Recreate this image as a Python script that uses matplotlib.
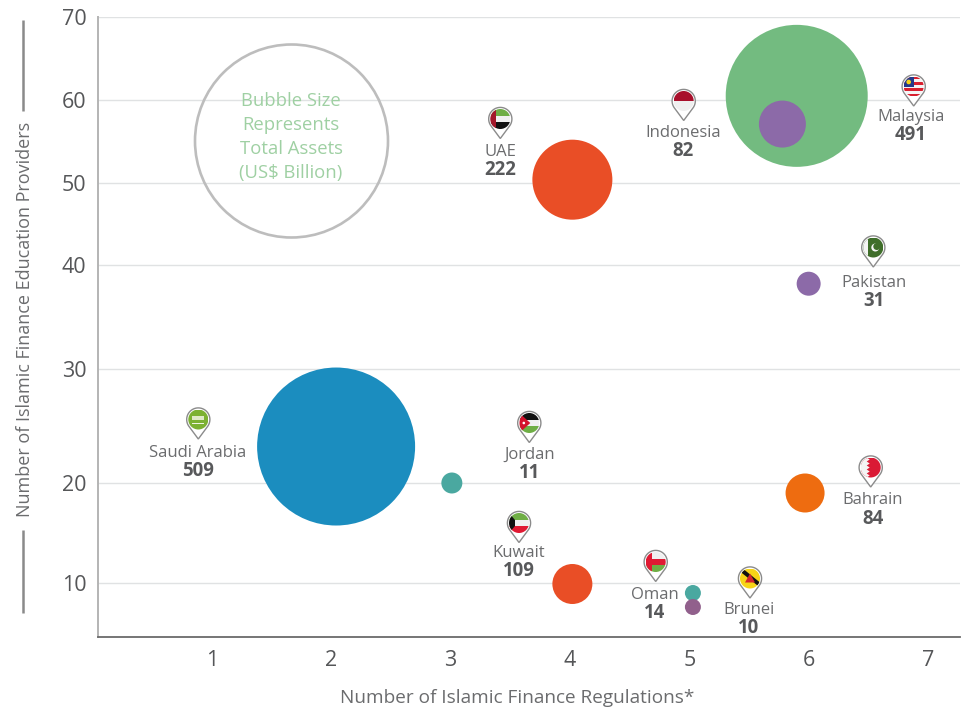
import numpy as np
import matplotlib
matplotlib.use("Agg")
import matplotlib.pyplot as plt
from matplotlib.patches import Circle, PathPatch, Rectangle, Polygon
from matplotlib.path import Path

plt.rcParams['font.family'] = ['Open Sans', 'DejaVu Sans']

# ---- data ----
countries = ["Saudi Arabia", "Malaysia", "UAE", "Kuwait", "Bahrain", "Indonesia", "Pakistan", "Jordan", "Oman", "Brunei"]
regulations = [2.04, 5.90, 4.02, 4.02, 5.97, 5.78, 6.00, 3.01, 5.03, 5.03]
providers = [23.2, 60.5, 50.4, 9.9, 19.0, 57.1, 38.2, 20.0, 9.0, 7.6]
assets = [509, 491, 222, 109, 84, 82, 31, 11, 14, 10]
x_ticks = [1, 2, 3, 4, 5, 6, 7]
y_ticks = [10, 20, 30, 40, 50, 60, 70]

# ---- styles ----
bubble_radius_px = [79, 71, 40, 20, 19.5, 23.5, 12, 10.5, 8, 8]
bubble_colors = ["#1b8dbf", "#73bb80", "#e94e26", "#e94e26", "#ee6c10", "#8c6aa8", "#8c6aa8", "#4aa8a0", "#4aa8a0", "#91608c"]
TXT = "#6b6c6e"
BOLD = "#58595b"

# piecewise y axis (the source's gridlines are unevenly spaced)
scale_vals = [4.6, 10, 20, 30, 40, 50, 60, 70]
scale_pos = [0, 54, 154, 268, 372, 454, 537, 620]

def fwd(v):
    return np.interp(v, scale_vals, scale_pos)

def inv(p):
    return np.interp(p, scale_pos, scale_vals)

W, H = 968, 707
fig = plt.figure(figsize=(W / 100, H / 100), dpi=100, facecolor="white")
ax = fig.add_axes([97.5 / W, 1 - 637 / H, (960 - 97.5) / W, (637 - 17) / H])
ax.set_xlim(1 + (97.5 - 212) / 119.33, 1 + (960 - 212) / 119.33)
ax.set_yscale("function", functions=(fwd, inv))
ax.set_ylim(4.6, 70)
ax.set_xticks(x_ticks)
ax.set_yticks(y_ticks)
ax.minorticks_off()
ax.grid(axis="y", color="#e0e2e3", lw=1.0, zorder=0)
ax.set_axisbelow(True)
ax.tick_params(length=0, labelsize=15.5, labelcolor="#555658")
ax.tick_params(axis="x", pad=9)
ax.tick_params(axis="y", pad=8)
for s in ("top", "right"):
    ax.spines[s].set_visible(False)
ax.spines["left"].set_color("#b4b4b4")
ax.spines["left"].set_linewidth(1.4)
ax.spines["bottom"].set_color("#6a6a6a")
ax.spines["bottom"].set_linewidth(1.3)

sizes = [(2 * r * 0.72) ** 2 for r in bubble_radius_px]
ax.scatter(regulations, providers, s=sizes, c=bubble_colors, linewidths=0, zorder=3, clip_on=False)

# ---- overlay in pixel coordinates for annotations ----
ov = fig.add_axes([0, 0, 1, 1], facecolor="none")
ov.set_xlim(0, W)
ov.set_ylim(H, 0)
ov.axis("off")

# size legend
ov.add_patch(Circle((291.5, 141), 96.5, fc="none", ec="#bdbdbd", lw=1.9))
for yy, t in zip([101, 125, 149, 173], ["Bubble Size", "Represents", "Total Assets", "(US$ Billion)"]):
    ov.text(291, yy, t, ha="center", va="center", fontsize=13.3, color="#9fd0a3")

# axis titles
ov.text(25, 319, "Number of Islamic Finance Education Providers", rotation=90, ha="center", va="center",
        fontsize=13, color=TXT)
ov.plot([23, 23], [20, 111], color="#8a8a8a", lw=1.8, solid_capstyle="butt")
ov.plot([23, 23], [530, 613], color="#8a8a8a", lw=1.8, solid_capstyle="butt")
ov.text(517, 698, "Number of Islamic Finance Regulations*", ha="center", va="center", fontsize=13.7, color=TXT)


def flag(cx, cy, draw):
    """Draws a flag clipped to the pin's round face."""
    R = 10
    clip = Circle((cx, cy), R, transform=ov.transData)
    for p in draw(cx, cy, R):
        ov.add_patch(p)
        p.set_clip_path(clip)
        p.set_linewidth(0)


def rect(x0, y0, x1, y1, c, z=6):
    return Rectangle((x0, y0), x1 - x0, y1 - y0, fc=c, zorder=z)


def stripes(cols):
    def d(cx, cy, R):
        n = len(cols)
        return [rect(cx - R, cy - R + 2 * R * i / n, cx + R, cy - R + 2 * R * (i + 1) / n, c) for i, c in enumerate(cols)]
    return d


def uae(cx, cy, R):
    return stripes(["#6fae45", "#f0f0f0", "#111111"])(cx, cy, R) + [rect(cx - R, cy - R, cx - R * 0.45, cy + R, "#a3182b", 7)]


def jordan(cx, cy, R):
    return stripes(["#111111", "#f0f0f0", "#6fae45"])(cx, cy, R) + [
        Polygon([(cx - R, cy - R), (cx + 1, cy), (cx - R, cy + R)], fc="#d4112c", zorder=7),
        Circle((cx - 5.5, cy), 1.3, fc="white", zorder=8)]


def kuwait(cx, cy, R):
    return stripes(["#6fae45", "#f0f0f0", "#e01a33"])(cx, cy, R) + [
        Polygon([(cx - R, cy - R), (cx - 4, cy - 3), (cx - 4, cy + 3), (cx - R, cy + R)], fc="#111111", zorder=7)]


def oman(cx, cy, R):
    return stripes(["#f0f0f0", "#e01a33", "#6fae45"])(cx, cy, R) + [rect(cx - R, cy - R, cx - R * 0.4, cy + R, "#e01a33", 7)]


def bahrain(cx, cy, R):
    pts = [(cx - R, cy - R)]
    n = 5
    for i in range(n):
        y0 = cy - R + 2 * R * i / n
        pts += [(cx - 4, y0), (cx - 1, y0 + R / n), (cx - 4, y0 + 2 * R / n)]
    pts += [(cx - R, cy + R)]
    return [rect(cx - R, cy - R, cx + R, cy + R, "#da1a35"), Polygon(pts, fc="#f4f4f4", zorder=7)]


def pakistan(cx, cy, R):
    return [rect(cx - R, cy - R, cx + R, cy + R, "#3f6e2a"),
            rect(cx - R, cy - R, cx - R * 0.55, cy + R, "#f4f4f4", 7),
            Circle((cx + 2, cy), 4, fc="#f4f4f4", zorder=7),
            Circle((cx + 3.5, cy - 1), 3.5, fc="#3f6e2a", zorder=8)]


def saudi(cx, cy, R):
    return [rect(cx - R, cy - R, cx + R, cy + R, "#7cb132"),
            rect(cx - 6, cy - 4, cx + 6, cy + 0.5, "#dfe9c8", 7),
            rect(cx - 6, cy + 3, cx + 6, cy + 4, "#eef3e0", 7)]


def brunei(cx, cy, R):
    return [rect(cx - R, cy - R, cx + R, cy + R, "#f7d417"),
            Polygon([(cx - R, cy - 7), (cx - 6, cy - 9), (cx + R, cy + 4), (cx + R, cy + 9)], fc="#111111", zorder=7),
            Polygon([(cx - 5, cy + 4), (cx, cy - 5), (cx + 5, cy + 4)], fc="#d4252c", zorder=8)]


def malaysia(cx, cy, R):
    cols = ["#d8202f", "#f4f4f4"] * 3 + ["#d8202f"]
    return stripes(cols)(cx, cy, R) + [rect(cx - R, cy - R, cx, cy, "#233a8b", 7),
                                       Circle((cx - 5, cy - 4.5), 2.3, fc="#f7d417", zorder=8)]


flags = {
    "UAE": uae, "Indonesia": stripes(["#a80f2b", "#efefef"]), "Malaysia": malaysia, "Jordan": jordan,
    "Kuwait": kuwait, "Oman": oman, "Brunei": brunei, "Saudi Arabia": saudi, "Pakistan": pakistan, "Bahrain": bahrain,
}

# pin centre and label centre, in figure pixels
pin_px = {
    "UAE": (500.3, 119), "Indonesia": (683.7, 101), "Malaysia": (913.7, 86.5), "Jordan": (529.3, 423),
    "Kuwait": (519, 523), "Oman": (655.7, 562), "Brunei": (750, 578.5), "Saudi Arabia": (198.3, 419.5),
    "Pakistan": (873.3, 247.5), "Bahrain": (870.7, 467.5),
}
label_px = {
    "UAE": (500, 152, 170), "Indonesia": (683, 133, 151), "Malaysia": (911, 117, 135), "Jordan": (530, 455, 473),
    "Kuwait": (519, 553, 571), "Oman": (655, 595, 613), "Brunei": (749, 610, 628), "Saudi Arabia": (198, 453, 471),
    "Pakistan": (874, 283, 301), "Bahrain": (873, 500, 519),
}


def pin(cx, cy):
    r = 11.6
    a = np.radians(np.linspace(-215, 35, 60))
    xs = cx + r * np.cos(a)
    ys = cy + r * np.sin(a)
    verts = list(zip(xs, ys)) + [(cx, cy + 19.5)] + [(xs[0], ys[0])]
    codes = [Path.MOVETO] + [Path.LINETO] * (len(verts) - 2) + [Path.CLOSEPOLY]
    ov.add_patch(PathPatch(Path(verts, codes), fc="white", ec="#8b8b8b", lw=1.0, zorder=5))


for name, value in zip(countries, assets):
    cx, cy = pin_px[name]
    pin(cx, cy)
    flag(cx, cy, flags[name])
    lx, y1, y2 = label_px[name]
    ov.text(lx, y1, name, ha="center", va="center", fontsize=12, color=TXT, zorder=9)
    ov.text(lx, y2, str(value), ha="center", va="center", fontsize=13.4, color=BOLD, fontweight="bold", zorder=9)

fig.savefig("out.png", dpi=100)
